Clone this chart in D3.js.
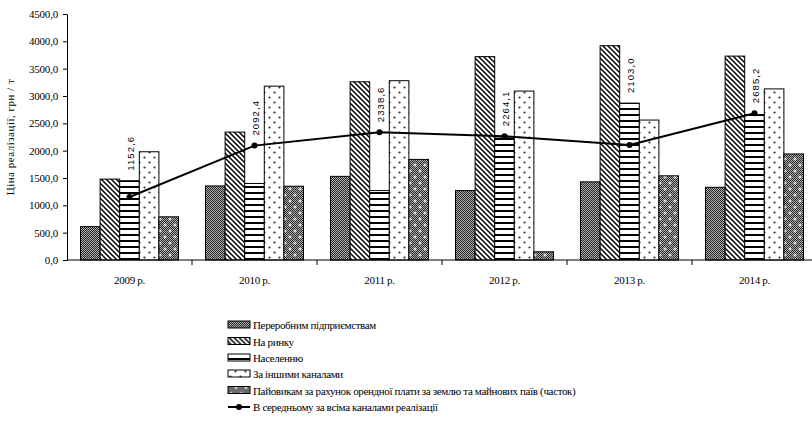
<!DOCTYPE html>
<html>
<head>
<meta charset="utf-8">
<script src="https://cdn.jsdelivr.net/npm/d3@7"></script>
<style>
  html, body { margin: 0; padding: 0; background: #fff; }
  svg { display: block; }
  text { font-family: "Liberation Serif", "Times New Roman", Tinos, serif; fill: #000; }
</style>
</head>
<body>
<svg id="chart" width="812" height="440"></svg>
<script>
// Realisation price of the product by sales channel, UAH per tonne
const years = ["2009 р.", "2010 р.", "2011 р.", "2012 р.", "2013 р.", "2014 р."];
const seriesNames = [
  "Переробним підприємствам",
  "На ринку",
  "Населенню",
  "За іншими каналами",
  "Пайовикам за рахунок орендної плати за землю та майнових паїв (часток)"
];
const processors = [610, 1355, 1530, 1270, 1430, 1330];
const market     = [1480, 2340, 3260, 3720, 3920, 3730];
const population = [1450, 1400, 1270, 2250, 2870, 2660];
const otherChannels = [1980, 3180, 3280, 3090, 2560, 3130];
const shareholders  = [790, 1350, 1840, 150, 1540, 1940];
const averageName = "В середньому за всіма каналами реалізації";
const average = [1152.6, 2092.4, 2338.6, 2264.1, 2103.0, 2685.2];
const yTicks = [0, 500, 1000, 1500, 2000, 2500, 3000, 3500, 4000, 4500];
const yTitle = "Ціна реалізації, грн / т";

const seriesValues = [processors, market, population, otherChannels, shareholders];
const serif = "'Liberation Serif', 'Times New Roman', serif";

const svg = d3.select("#chart");
const defs = svg.append("defs");

// fill patterns for the five channels
let p = defs.append("pattern").attr("id", "pat0").attr("patternUnits", "userSpaceOnUse")
  .attr("width", 2).attr("height", 2);
p.append("rect").attr("width", 2).attr("height", 2).attr("fill", "#b0b0b0");
p.append("rect").attr("x", 0).attr("y", 0).attr("width", 1).attr("height", 1).attr("fill", "#262626");
p.append("rect").attr("x", 1).attr("y", 1).attr("width", 1).attr("height", 1).attr("fill", "#262626");

p = defs.append("pattern").attr("id", "pat1").attr("patternUnits", "userSpaceOnUse")
  .attr("width", 5).attr("height", 5);
p.append("rect").attr("width", 5).attr("height", 5).attr("fill", "#fff");
p.append("path").attr("d", "M0,0 L5,5 M-1,4 L1,6 M4,-1 L6,1")
  .attr("stroke", "#000").attr("stroke-width", 1.5);

p = defs.append("pattern").attr("id", "pat2").attr("patternUnits", "userSpaceOnUse")
  .attr("width", 6).attr("height", 6);
p.append("rect").attr("width", 6).attr("height", 6).attr("fill", "#fff");
p.append("rect").attr("y", 0).attr("width", 6).attr("height", 2).attr("fill", "#000");

p = defs.append("pattern").attr("id", "pat3").attr("patternUnits", "userSpaceOnUse")
  .attr("width", 10).attr("height", 10);
p.append("rect").attr("width", 10).attr("height", 10).attr("fill", "#fff");
p.append("circle").attr("cx", 2.5).attr("cy", 2.5).attr("r", 1.1).attr("fill", "#333");
p.append("circle").attr("cx", 7.5).attr("cy", 7.5).attr("r", 1.1).attr("fill", "#333");

p = defs.append("pattern").attr("id", "pat4").attr("patternUnits", "userSpaceOnUse")
  .attr("width", 10).attr("height", 12);
p.append("rect").attr("width", 10).attr("height", 12).attr("fill", "url(#pat0)");
[[3, 3], [8, 9]].forEach(([cx, cy]) => {
  p.append("path").attr("d", `M${cx - 1.5},${cy} H${cx + 1.5} M${cx},${cy - 1.5} V${cy + 1.5}`)
    .attr("stroke", "#fff").attr("stroke-width", 1);
});

const x0 = d3.scaleBand().domain(years).range([67, 817]).paddingInner(0).paddingOuter(0);
const groupWidth = x0.bandwidth() * 0.784;
const x1 = d3.scaleBand().domain(d3.range(seriesNames.length))
  .range([(x0.bandwidth() - groupWidth) / 2, (x0.bandwidth() + groupWidth) / 2]);
const y = d3.scaleLinear().domain([0, 4500]).range([260, 14]);

const fmt = v => d3.format(".1f")(v).replace(".", ",");

// bars
const groups = svg.append("g").selectAll("g").data(years).join("g")
  .attr("transform", d => `translate(${x0(d)},0)`);
groups.selectAll("rect")
  .data((d, i) => seriesValues.map((s, k) => ({ k, v: s[i] })))
  .join("rect")
  .attr("x", d => x1(d.k))
  .attr("y", d => y(d.v))
  .attr("width", x1.bandwidth())
  .attr("height", d => y(0) - y(d.v))
  .attr("fill", d => `url(#pat${d.k})`)
  .attr("stroke", "#000")
  .attr("stroke-width", 1);

// y axis
const yAxis = svg.append("g").attr("transform", "translate(67,0)")
  .call(d3.axisLeft(y).tickValues(yTicks).tickFormat(fmt).tickSize(4).tickSizeOuter(0))
  .attr("font-family", serif);
yAxis.select(".domain").attr("stroke", "#000");
yAxis.selectAll("text").attr("font-size", 11).attr("letter-spacing", -0.2).attr("dx", "-2");

// x axis with ticks on category boundaries
const xAxisG = svg.append("g").attr("transform", "translate(0,260)");
xAxisG.append("line").attr("x1", 67).attr("x2", 817).attr("stroke", "#000");
xAxisG.selectAll("line.tick").data(years.slice(1)).join("line")
  .attr("class", "tick")
  .attr("x1", d => x0(d)).attr("x2", d => x0(d))
  .attr("y1", 0).attr("y2", 5).attr("stroke", "#000");
xAxisG.selectAll("text").data(years).join("text")
  .attr("x", d => x0(d) + x0.bandwidth() / 2)
  .attr("y", 24)
  .attr("text-anchor", "middle")
  .attr("font-size", 11)
  .attr("letter-spacing", -0.3)
  .text(d => d);

// y title
svg.append("text")
  .attr("transform", "translate(14,137) rotate(-90)")
  .attr("text-anchor", "middle")
  .attr("font-size", 11)
  .attr("letter-spacing", 0.5)
  .text(yTitle);

// average line
const cx = i => x0(years[i]) + x0.bandwidth() / 2;
const line = d3.line().x((d, i) => cx(i)).y(d => y(d));
svg.append("path").datum(average).attr("d", line)
  .attr("fill", "none").attr("stroke", "#000").attr("stroke-width", 2);
svg.append("g").selectAll("circle").data(average).join("circle")
  .attr("cx", (d, i) => cx(i)).attr("cy", d => y(d)).attr("r", 3).attr("fill", "#000");

// value labels, stacked above the point or the middle bar, whichever is higher
svg.append("g").selectAll("text").data(average).join("text")
  .attr("transform", (d, i) => {
    const top = Math.min(y(d), y(population[i])) - 10;
    return `translate(${cx(i) + 4},${top}) rotate(-90)`;
  })
  .attr("text-anchor", "start")
  .style("font-family", "'Liberation Sans', Arial, sans-serif")
  .attr("font-size", 9.5)
  .attr("letter-spacing", 1.1)
  .attr("fill", "#222")
  .text(d => fmt(d));

// legend
const legend = svg.append("g").attr("transform", "translate(228,0)");
const rowY = [325, 341.5, 358, 374, 390.5, 407];
seriesNames.forEach((name, k) => {
  const g = legend.append("g").attr("transform", `translate(0,${rowY[k]})`);
  g.append("rect").attr("x", 0).attr("y", -4).attr("width", 22).attr("height", 7)
    .attr("fill", `url(#pat${k})`).attr("stroke", "#000").attr("stroke-width", 1);
  g.append("text").attr("x", 25).attr("y", 4).attr("font-size", 11)
    .attr("letter-spacing", -0.35).text(name);
});
{
  const g = legend.append("g").attr("transform", `translate(0,${rowY[5]})`);
  g.append("line").attr("x1", 0).attr("x2", 22).attr("y1", 0).attr("y2", 0)
    .attr("stroke", "#000").attr("stroke-width", 2);
  g.append("circle").attr("cx", 11).attr("cy", 0).attr("r", 3).attr("fill", "#000");
  g.append("text").attr("x", 25).attr("y", 4).attr("font-size", 11)
    .attr("letter-spacing", -0.35).text(averageName);
}
</script>
</body>
</html>
